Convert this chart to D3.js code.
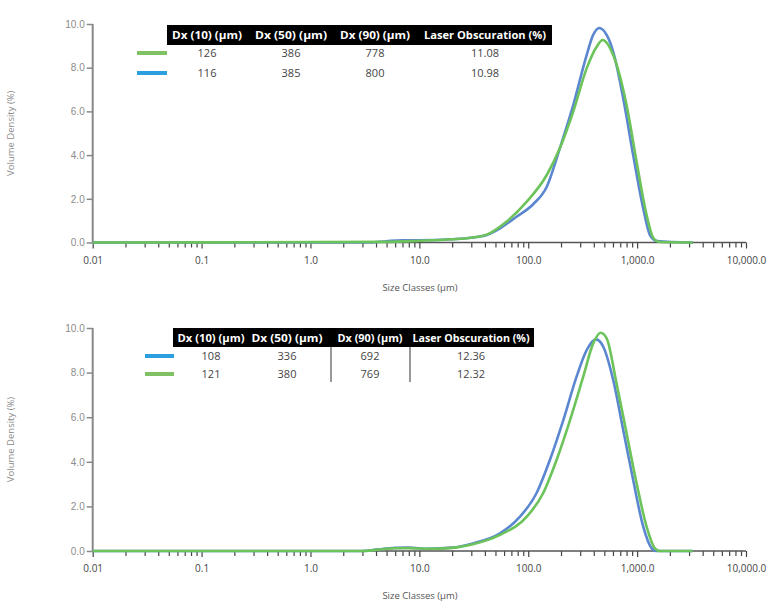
<!DOCTYPE html>
<html>
<head>
<meta charset="utf-8">
<script src="https://cdn.jsdelivr.net/npm/d3@7"></script>
<style>
  body { margin: 0; background: #fff; }
  svg { display: block; font-family: "Open Sans", "Noto Sans", sans-serif; }
</style>
</head>
<body>
<svg id="chart" width="780" height="616"></svg>
<script>
// ---------- DATA ----------
const xTickValues = [0.01, 0.1, 1, 10, 100, 1000, 10000];
const xTickLabels = ["0.01", "0.1", "1.0", "10.0", "100.0", "1,000.0", "10,000.0"];
const yTickValues = [0, 2, 4, 6, 8, 10];
const yTickLabels = ["0.0", "2.0", "4.0", "6.0", "8.0", "10.0"];
const tableHeaders = ["Dx (10) (µm)", "Dx (50) (µm)", "Dx (90) (µm)", "Laser Obscuration (%)"];

// Top panel
const topGreenSizes  = [0.01, 5, 10, 20, 30, 41.5, 63, 97, 148, 195, 259, 344, 425, 482, 603, 800, 989, 1222, 1406, 1622, 3236];
const topGreenValues = [0, 0.03, 0.08, 0.15, 0.22, 0.36, 0.95, 1.87, 3.09, 4.31, 5.99, 7.97, 8.96, 9.27, 8.58, 6.29, 3.7, 1.26, 0.22, 0.02, 0];
const topBlueSizes   = [0.01, 3.5, 5, 7, 10, 20, 30, 41.5, 55, 78, 111, 148, 195, 259, 344, 395, 449, 525, 603, 745, 920, 1138, 1312, 1512, 3236];
const topBlueValues  = [0, 0, 0.06, 0.1, 0.1, 0.15, 0.22, 0.34, 0.65, 1.18, 1.75, 2.55, 4.31, 6.29, 8.58, 9.5, 9.82, 9.5, 8.73, 6.6, 4.0, 1.56, 0.34, 0.07, 0];
const topTableGreen  = ["126", "386", "778", "11.08"];
const topTableBlue   = ["116", "385", "800", "10.98"];

// Bottom panel
const botBlueSizes   = [0.01, 3, 4, 6, 8, 12, 20, 31, 55, 84, 119, 158, 210, 278, 344, 419, 489, 603, 745, 920, 1138, 1360, 1500, 3236];
const botBlueValues  = [0, 0, 0.06, 0.14, 0.15, 0.1, 0.15, 0.34, 0.79, 1.54, 2.59, 4.08, 5.87, 7.82, 9.01, 9.49, 9.16, 7.67, 5.43, 3.18, 1.09, 0.12, 0, 0];
const botGreenSizes  = [0.01, 3, 4, 6, 8, 12, 20, 31, 55, 97, 137, 182, 242, 320, 395, 462, 525, 647, 800, 989, 1222, 1456, 1622, 3236];
const botGreenValues = [0, 0, 0.05, 0.12, 0.13, 0.1, 0.14, 0.3, 0.72, 1.54, 2.59, 4.08, 5.87, 7.82, 9.31, 9.79, 9.54, 7.52, 5.28, 3.04, 1.09, 0.12, 0, 0];
const botTableBlue   = ["108", "336", "692", "12.36"];
const botTableGreen  = ["121", "380", "769", "12.32"];

// ---------- STYLE ----------
const BLUE_LINE = "#5b86d0", GREEN_LINE = "#6cc35a";
const BLUE_SW = "#2b9fe0", GREEN_SW = "#80c165";

const svg = d3.select("#chart");

function zip(s, v) { return s.map((d, i) => ({ s: d, v: v[i] })); }

function panel(cfg) {
  const x = d3.scaleLog().domain([0.01, 10000]).range([92.7, 746]);
  const y = d3.scaleLinear().domain([0, 10]).range(cfg.yRange);
  const g = svg.append("g");

  // minor ticks for x
  const minor = [];
  for (let e = -2; e < 4; e++) for (let m = 2; m <= 9; m++) minor.push(m * Math.pow(10, e));

  // x axis: minor ticks
  const xMinor = g.append("g").attr("transform", `translate(0,${cfg.yRange[0]})`);
  xMinor.call(d3.axisBottom(x).tickValues(minor).tickSize(5).tickFormat(""));
  xMinor.select(".domain").remove();
  xMinor.selectAll("line").attr("stroke", "#444").attr("stroke-width", 1.2);

  // x axis: major ticks + labels
  const xAxis = g.append("g").attr("transform", `translate(0,${cfg.yRange[0]})`);
  xAxis.call(d3.axisBottom(x).tickValues(xTickValues).tickSize(6).tickPadding(8)
      .tickFormat((d, i) => xTickLabels[i]));
  xAxis.select(".domain").attr("stroke", "#555").attr("stroke-width", 1.5)
      .attr("d", `M92.7,0H746`);
  xAxis.selectAll("line").attr("stroke", "#444").attr("stroke-width", 1.2);
  xAxis.selectAll("text").attr("fill", "#444").style("font-size", "10px")
      .style("font-family", "'Open Sans', sans-serif");

  // y axis
  const yAxis = g.append("g").attr("transform", `translate(92.7,0)`);
  yAxis.call(d3.axisLeft(y).tickValues(yTickValues).tickSize(6).tickPadding(2)
      .tickFormat((d, i) => yTickLabels[i]));
  yAxis.select(".domain").attr("stroke", "#888").attr("stroke-width", 2)
      .attr("d", `M0,${cfg.yRange[1]}V${cfg.yRange[0]}`);
  yAxis.selectAll("line").attr("stroke", "#888").attr("stroke-width", 1.5);
  yAxis.selectAll("text").attr("fill", "#8c8c8c").style("font-size", "10px");

  // axis titles
  g.append("text").attr("x", 420).attr("y", cfg.yRange[0] + 48)
    .attr("text-anchor", "middle").attr("fill", "#555").style("font-size", "9.5px")
    .text("Size Classes (µm)");
  g.append("text")
    .attr("transform", `translate(14,${(cfg.yRange[0] + cfg.yRange[1]) / 2}) rotate(-90)`)
    .attr("text-anchor", "middle").attr("fill", "#8c8c8c").style("font-size", "9.5px")
    .text("Volume Density (%)");

  // lines
  const line = d3.line().x(d => x(d.s)).y(d => y(d.v)).curve(d3.curveMonotoneX);
  cfg.series.forEach(s => {
    g.append("path").datum(zip(s.sizes, s.values))
      .attr("fill", "none").attr("stroke", s.color).attr("stroke-width", 2.6)
      .attr("stroke-linejoin", "round").attr("d", line);
  });

  // table
  const t = cfg.table;
  g.append("rect").attr("x", t.x0).attr("y", t.y0).attr("width", t.x1 - t.x0).attr("height", t.h)
    .attr("fill", "#000");
  tableHeaders.forEach((h, i) => {
    g.append("text").attr("x", t.centers[i]).attr("y", t.y0 + t.h / 2 + 4)
      .attr("text-anchor", "middle").attr("fill", "#fff")
      .style("font-size", "10.5px").style("font-weight", "bold")
      .style("font-family", "'Open Sans', sans-serif")
      .attr("textLength", t.widths[i]).attr("lengthAdjust", "spacingAndGlyphs")
      .text(h);
  });
  t.rows.forEach((r, ri) => {
    const ry = t.rowY[ri];
    g.append("line").attr("x1", t.sw[0]).attr("x2", t.sw[1]).attr("y1", ry).attr("y2", ry)
      .attr("stroke", r.color).attr("stroke-width", 4);
    r.values.forEach((v, i) => {
      g.append("text").attr("x", t.centers[i]).attr("y", ry + 4)
        .attr("text-anchor", "middle").attr("fill", "#444").style("font-size", "11px")
        .text(v);
    });
  });
  (t.seps || []).forEach(sx => {
    g.append("line").attr("x1", sx).attr("x2", sx).attr("y1", t.y0 + t.h).attr("y2", t.rowY[1] + 8)
      .attr("stroke", "#333").attr("stroke-width", 1);
  });
}

panel({
  yRange: [242.5, 24],
  series: [
    { sizes: topBlueSizes, values: topBlueValues, color: BLUE_LINE },
    { sizes: topGreenSizes, values: topGreenValues, color: GREEN_LINE }
  ],
  table: {
    x0: 167, x1: 552, y0: 25, h: 20,
    centers: [207, 291, 375, 485],
    widths: [70, 72, 70, 122],
    rowY: [53, 73],
    sw: [137, 167],
    rows: [{ color: GREEN_SW, values: topTableGreen }, { color: BLUE_SW, values: topTableBlue }]
  }
});

panel({
  yRange: [551, 328],
  series: [
    { sizes: botBlueSizes, values: botBlueValues, color: BLUE_LINE },
    { sizes: botGreenSizes, values: botGreenValues, color: GREEN_LINE }
  ],
  table: {
    x0: 173, x1: 534, y0: 328, h: 19,
    centers: [211, 287, 370, 471],
    widths: [67, 71, 65, 117],
    rowY: [356, 374],
    sw: [145, 174],
    seps: [331, 410],
    rows: [{ color: BLUE_SW, values: botTableBlue }, { color: GREEN_SW, values: botTableGreen }]
  }
});
</script>
</body>
</html>
